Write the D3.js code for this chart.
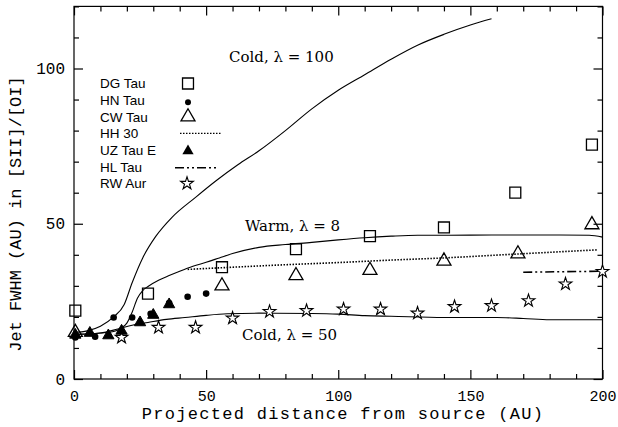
<!DOCTYPE html>
<html><head><meta charset="utf-8">
<script src="https://cdn.jsdelivr.net/npm/d3@7"></script>
<style>body{margin:0;background:#fff}svg{display:block}</style>
</head><body>
<svg id="c" width="618" height="427"></svg>
<script>
// ---- data ----
const dgX = [0.5, 28, 56, 84, 112, 140, 167, 196];
const dgY = [22, 27.5, 36, 41.8, 46, 48.8, 60, 75.5];
const hnX = [0.5, 8, 15, 22, 29, 36, 43, 50];
const hnY = [13.4, 13.6, 19.8, 19.8, 21, 24.5, 26.5, 27.5];
const cwX = [0.5, 56, 84, 112, 140, 168, 196];
const cwY = [15, 30, 33.3, 35, 38, 40.3, 49.7];
const uzX = [0.5, 6, 13, 18, 25, 30, 36];
const uzY = [14.2, 14.8, 14, 15.5, 18.2, 20.6, 24];
const rwX = [18, 32, 46, 60, 74, 88, 102, 116, 130, 144, 158, 172, 186, 200];
const rwY = [13.4, 16.6, 16.6, 19.6, 21.7, 22, 22.5, 22.5, 21.2, 23.3, 23.6, 25.2, 30.6, 34.6];
const hhX = [43, 60, 80, 100, 120, 140, 160, 180, 198];
const hhY = [35.3, 36, 36.8, 37.5, 38.3, 39, 39.9, 40.8, 41.6];
const hlX = [170, 200];
const hlY = [34.4, 34.7];
const cold100X = [0, 5, 10, 15, 19, 22, 26, 31, 37, 46, 54, 62, 70, 80, 90, 100, 110, 120, 130, 140, 150, 158];
const cold100Y = [15, 15.5, 17, 20, 24, 31, 39, 46, 52, 58.5, 64, 69, 73.5, 80, 87, 93, 98, 103, 107.5, 111, 114, 116];
const warm8X = [0, 5, 10, 15, 18, 20, 22, 24, 26, 28, 32, 36, 40, 45, 50, 55, 60, 70, 80, 90, 100, 110, 120, 130, 140, 160, 180, 195, 200];
const warm8Y = [14.5, 14.5, 14.8, 15.3, 16.5, 18, 21.5, 26, 28.5, 29.8, 31.8, 33.3, 34.7, 36.3, 37.6, 39, 40.4, 42.4, 43.3, 44, 44.8, 45.5, 46, 46.3, 46.3, 46.4, 46.4, 46.3, 45.7];
const cold50X = [0, 10, 17, 22, 28, 35, 42, 50, 58, 70, 90, 100, 110, 120, 140, 160, 170, 180, 200];
const cold50Y = [14.3, 14.8, 16.2, 17.3, 18.2, 19.2, 19.8, 20.5, 21, 21.2, 21.1, 20.9, 20.4, 20.2, 19.8, 19.8, 19.5, 19.1, 19.1];
const legendLabels = ["DG Tau", "HN Tau", "CW Tau", "HH 30", "UZ Tau E", "HL Tau", "RW Aur"];
const curveLabels = ["Cold, \u03bb = 100", "Warm, \u03bb = 8", "Cold, \u03bb = 50"];
const xMajor = [0, 50, 100, 150, 200];
const yMajor = [0, 50, 100];
const xTitle = "Projected distance from source (AU)";
const yTitle = "Jet FWHM (AU) in [SII]/[OI]";

// ---- drawing ----
const svg = d3.select("#c");
const L = 74, R = 602.5, T = 6.4, B = 379;
const x = d3.scaleLinear().domain([0, 200]).range([L, R]);
const y = d3.scaleLinear().domain([0, 120]).range([B, T]);
const mono = "Liberation Mono, Courier New, monospace";
const serif = "DejaVu Serif, serif";

svg.append("rect").attr("x", L).attr("y", T).attr("width", R - L).attr("height", B - T)
  .attr("fill", "none").attr("stroke", "#000").attr("stroke-width", 1.2);

const xMinor = d3.range(0, 201, 10).filter(v => v % 50 !== 0);
const yMinor = d3.range(0, 121, 10).filter(v => v % 50 !== 0);

function styleAxis(g) {
  g.select(".domain").remove();
  g.selectAll("line").attr("stroke", "#000").attr("stroke-width", 1.2);
  g.selectAll("text").attr("fill", "#000").attr("font-family", mono).attr("font-size", 16);
}
// bottom
svg.append("g").attr("transform", `translate(0,${B})`)
  .call(d3.axisBottom(x).tickValues(xMajor).tickSize(-9).tickPadding(11).tickFormat(d3.format("d"))).call(styleAxis)
  .selectAll("text").attr("font-size", 15);
svg.append("g").attr("transform", `translate(0,${B})`)
  .call(d3.axisBottom(x).tickValues(xMinor).tickSize(-5).tickFormat("")).call(styleAxis);
// top
svg.append("g").attr("transform", `translate(0,${T})`)
  .call(d3.axisTop(x).tickValues(xMajor).tickSize(-9).tickFormat("")).call(styleAxis);
svg.append("g").attr("transform", `translate(0,${T})`)
  .call(d3.axisTop(x).tickValues(xMinor).tickSize(-5).tickFormat("")).call(styleAxis);
// left
svg.append("g").attr("transform", `translate(${L},0)`)
  .call(d3.axisLeft(y).tickValues(yMajor).tickSize(-9).tickPadding(9).tickFormat(d3.format("d"))).call(styleAxis);
svg.append("g").attr("transform", `translate(${L},0)`)
  .call(d3.axisLeft(y).tickValues(yMinor).tickSize(-5).tickFormat("")).call(styleAxis);
// right
svg.append("g").attr("transform", `translate(${R},0)`)
  .call(d3.axisRight(y).tickValues(yMajor).tickSize(-9).tickFormat("")).call(styleAxis);
svg.append("g").attr("transform", `translate(${R},0)`)
  .call(d3.axisRight(y).tickValues(yMinor).tickSize(-5).tickFormat("")).call(styleAxis);

// titles
svg.append("text").attr("x", 343).attr("y", 419).attr("text-anchor", "middle")
  .attr("font-family", mono).attr("font-size", 17).attr("letter-spacing", 1.3).attr("fill", "#000").text(xTitle);
svg.append("text").attr("transform", `translate(21,214) rotate(-90)`).attr("text-anchor", "middle")
  .attr("font-family", mono).attr("font-size", 17).attr("fill", "#000").text(yTitle);

// curves
const line = d3.line().x(d => x(d[0])).y(d => y(d[1])).curve(d3.curveMonotoneX);
const zip = (a, b) => a.map((v, i) => [v, b[i]]);
const plot = svg.append("g");
[[cold100X, cold100Y], [warm8X, warm8Y], [cold50X, cold50Y]].forEach(([a, b]) => {
  plot.append("path").attr("d", line(zip(a, b))).attr("fill", "none").attr("stroke", "#000").attr("stroke-width", 1.1);
});
plot.append("path").attr("d", line(zip(hhX, hhY))).attr("fill", "none").attr("stroke", "#000")
  .attr("stroke-width", 1.6).attr("stroke-dasharray", "1.5,1.5");
plot.append("path").attr("d", line(zip(hlX, hlY))).attr("fill", "none").attr("stroke", "#000")
  .attr("stroke-width", 1.6).attr("stroke-dasharray", "9,3,2,3,2,3");

// markers
const sq = d3.symbol().type(d3.symbolSquare).size(120);
const tri = d3.symbol().type(d3.symbolTriangle).size(85);
const triF = d3.symbol().type(d3.symbolTriangle).size(55);
const star = d3.symbol().type(d3.symbolStar).size(50);
function markers(xs, ys, gen, fill, sw) {
  plot.selectAll(null).data(zip(xs, ys)).enter().append("path")
    .attr("d", gen).attr("transform", d => `translate(${x(d[0])},${y(d[1])})`)
    .attr("fill", fill).attr("stroke", "#000").attr("stroke-width", sw);
}
markers(dgX, dgY, sq, "none", 1.3);
markers(cwX, cwY, tri, "none", 1.3);
markers(rwX, rwY, star, "#fff", 1.1);
markers(uzX, uzY, triF, "#000", 1);
plot.selectAll(null).data(zip(hnX, hnY)).enter().append("circle")
  .attr("cx", d => x(d[0])).attr("cy", d => y(d[1])).attr("r", 3.3).attr("fill", "#000");

// legend
const lg = svg.append("g");
const ly = i => 83.5 + i * 16.65;
legendLabels.forEach((t, i) => {
  lg.append("text").attr("x", 100).attr("y", ly(i)).attr("dy", "0.36em")
    .attr("font-family", "Liberation Sans, Arial, sans-serif").attr("font-size", 13.5).attr("fill", "#000").text(t);
});
const sx = 188;
lg.append("path").attr("d", sq()).attr("transform", `translate(${sx},${ly(0)})`).attr("fill", "none").attr("stroke", "#000").attr("stroke-width", 1.3);
lg.append("circle").attr("cx", sx).attr("cy", ly(1) + 2).attr("r", 3).attr("fill", "#000");
lg.append("path").attr("d", tri()).attr("transform", `translate(${sx},${ly(2)})`).attr("fill", "none").attr("stroke", "#000").attr("stroke-width", 1.3);
lg.append("line").attr("x1", 180).attr("x2", 222).attr("y1", ly(3)).attr("y2", ly(3)).attr("stroke", "#000").attr("stroke-width", 1.3).attr("stroke-dasharray", "1.5,1.5");
lg.append("path").attr("d", triF()).attr("transform", `translate(${sx},${ly(4)+1})`).attr("fill", "#000");
lg.append("line").attr("x1", 175).attr("x2", 217).attr("y1", ly(5) + 1).attr("y2", ly(5) + 1).attr("stroke", "#000").attr("stroke-width", 1.3).attr("stroke-dasharray", "9,3,2,3,2,3");
lg.append("path").attr("d", star()).attr("transform", `translate(${sx-1},${ly(6)})`).attr("fill", "#fff").attr("stroke", "#000").attr("stroke-width", 1.1);

// curve labels
const labPos = [[229, 57], [245, 226], [242, 335]];
curveLabels.forEach((t, i) => {
  svg.append("text").attr("x", labPos[i][0]).attr("y", labPos[i][1]).attr("dy", "0.35em")
    .attr("font-family", serif).attr("font-size", 15).attr("fill", "#000").text(t);
});
</script>
</body></html>
